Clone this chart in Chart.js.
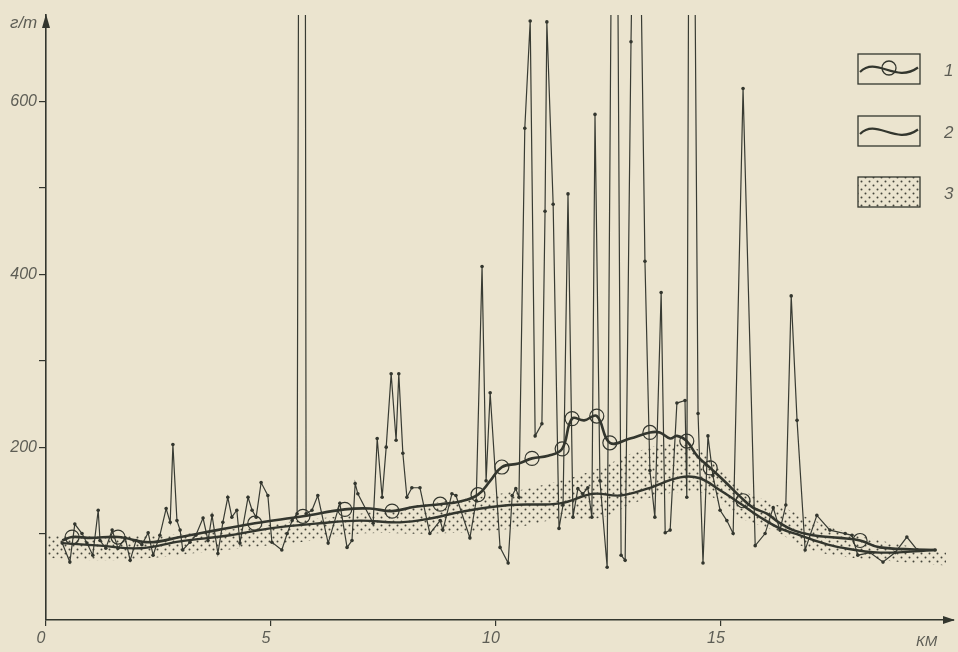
<!DOCTYPE html>
<html>
<head>
<meta charset="utf-8">
<script src="https://cdn.jsdelivr.net/npm/chart.js@4.4.1/dist/chart.umd.min.js"></script>
<style>
  html, body { margin: 0; padding: 0; background: #ebe4cf; }
  canvas { display: block; }
</style>
</head>
<body>
<canvas id="chart" width="958" height="652"></canvas>
<script>
// raw assay profile (thin line with dots), km / g/t ; 900 = off the scale
const rawKm = [0.36, 0.53, 0.64, 0.80, 0.91, 1.04, 1.16, 1.20, 1.33, 1.47, 1.60, 1.76, 1.87, 2.00, 2.13, 2.27, 2.38, 2.53, 2.67, 2.76,
  2.82, 2.91, 2.98, 3.04, 3.20, 3.33, 3.49, 3.60, 3.69, 3.82, 3.93, 4.04, 4.13, 4.24, 4.31, 4.49, 4.58, 4.67, 4.78, 4.93,
  5.02, 5.24, 5.36, 5.47, 5.58, 5.62, 5.76, 5.78, 5.91, 6.04, 6.27, 6.53, 6.69, 6.80, 6.87, 6.93, 7.27, 7.36, 7.47, 7.56,
  7.67, 7.78, 7.84, 7.93, 8.02, 8.13, 8.31, 8.53, 8.76, 8.82, 9.02, 9.11, 9.42, 9.56, 9.69, 9.78, 9.87, 10.09, 10.27, 10.36,
  10.44, 10.51, 10.64, 10.76, 10.87, 11.02, 11.09, 11.13, 11.27, 11.40, 11.49, 11.60, 11.71, 11.82, 11.93, 12.04, 12.13, 12.20, 12.31, 12.47,
  12.58, 12.69, 12.78, 12.87, 13.00, 13.07, 13.18, 13.31, 13.42, 13.53, 13.67, 13.76, 13.87, 14.02, 14.20, 14.24, 14.29, 14.40, 14.49, 14.60,
  14.71, 14.82, 14.98, 15.13, 15.27, 15.49, 15.76, 15.98, 16.16, 16.31, 16.44, 16.56, 16.69, 16.87, 17.13, 17.42, 17.76, 17.91, 18.04, 18.31,
  18.60, 18.87, 19.13, 19.36, 19.76];
const rawVal = [89, 67, 111, 100, 89, 75, 127, 92, 83, 104, 83, 95, 69, 92, 87, 101, 75, 98, 129, 113,
  203, 115, 104, 81, 90, 98, 118, 92, 121, 77, 113, 142, 119, 127, 89, 142, 127, 119, 159, 144,
  90, 81, 100, 115, 123, 900, 900, 123, 127, 144, 89, 135, 84, 92, 158, 146, 112, 210, 142, 200,
  285, 208, 285, 193, 142, 153, 153, 100, 115, 104, 146, 144, 95, 138, 409, 161, 263, 84, 66, 144,
  152, 142, 569, 693, 213, 227, 473, 692, 481, 106, 133, 493, 119, 152, 146, 153, 119, 585, 161, 61,
  900, 900, 75, 69, 669, 900, 900, 415, 173, 119, 379, 101, 104, 251, 254, 142, 900, 900, 239, 66,
  213, 167, 127, 115, 100, 615, 86, 100, 130, 104, 133, 375, 231, 81, 121, 104, 100, 98, 75, 78,
  67, 78, 96, 81, 81];

// curve 1 (smoothed, with circles)
const curve1Km = [0.36, 0.58, 1.0, 1.6, 2.3, 2.98, 3.8, 4.64, 5.71, 6.64, 7.2, 7.69, 8.2, 8.76, 9.2, 9.6, 9.87, 10.13, 10.5, 10.8,
  11.16, 11.47, 11.69, 11.96, 12.24, 12.53, 12.98, 13.42, 13.64, 13.87, 14.02, 14.24, 14.47, 14.76, 15.13, 15.42, 15.71, 16.02, 16.31, 16.6,
  17.04, 17.64, 18.09, 18.53, 19.76];
const curve1Val = [92, 96, 95, 96, 90, 96, 104, 112, 120, 128, 129, 126, 131, 134, 137, 145, 161, 177, 181, 187,
  190, 198, 233, 231, 236, 205, 210, 217, 217, 210, 213, 207, 190, 176, 158, 143, 130, 123, 112, 104,
  98, 95, 92, 84, 81];
const circleKm = [0.58, 1.6, 4.64, 5.71, 6.64, 7.69, 8.76, 9.6, 10.13, 10.8, 11.47, 11.69, 12.24, 12.53, 13.42, 14.24, 14.76, 15.49, 18.09];
const circleVal = [96, 96, 112, 120, 128, 126, 134, 145, 177, 187, 198, 233, 236, 205, 217, 207, 176, 138, 92];

// curve 2 (smoothed)
const curve2Km = [0.36, 1.2, 2.09, 2.98, 4.09, 4.98, 6.09, 6.98, 7.87, 8.6, 9.2, 10.31, 11.42, 12.16, 12.76, 13.36, 14.09, 14.53, 14.98, 15.42,
  15.87, 16.31, 16.76, 17.2, 17.64, 18.53, 19.76];
const curve2Val = [89, 86, 83, 91, 98, 106, 112, 115, 113, 118, 125, 133, 135, 146, 144, 152, 165, 164, 150, 135,
  119, 106, 98, 90, 84, 78, 81];

// band 3 (dotted area)
const bandKm = [0.02, 1.2, 2.4, 3.42, 4.5, 5.64, 6.98, 8.53, 10.09, 11.42, 12.3, 13.2, 14.09, 14.7, 15.4, 16.16, 16.9, 17.64, 18.53, 20.0];
const bandLow = [72, 69, 72, 78, 84, 90, 100, 100, 104, 117, 118, 138, 148, 145, 119, 104, 83, 74, 69, 63];
const bandHigh = [98, 97, 98, 101, 107, 115, 123, 135, 146, 161, 176, 196, 204, 190, 153, 135, 119, 104, 92, 78];

const yTicks = [100, 200, 300, 400, 500, 600];
const yLabels = [200, 400, 600];
const xTicks = [0, 5, 10, 15];
const legendLabels = ['1', '2', '3'];

const ink = '#33362e';
const paper = '#ebe4cf';
const labelColor = '#5d5d55';

const pts = (xs, ys) => xs.map((x, i) => ({ x: x, y: ys[i] }));

const ctx = document.getElementById('chart').getContext('2d');

function makeDots() {
    const c = document.createElement('canvas');
    c.width = 8; c.height = 8;
    const g = c.getContext('2d');
    g.fillStyle = '#45453c';
    g.beginPath(); g.arc(1.5, 1.5, 1.0, 0, Math.PI * 2); g.fill();
    g.beginPath(); g.arc(5.5, 5.5, 1.0, 0, Math.PI * 2); g.fill();
    return ctx.createPattern(c, 'repeat');
}
const dots = makeDots();

function wave(g, x, y, w, h) {
    g.beginPath();
    g.moveTo(x + 2, y + h * 0.6);
    g.bezierCurveTo(x + w * 0.3, y + h * 0.05, x + w * 0.6, y + h * 1.0, x + w - 2, y + h * 0.45);
    g.stroke();
}

const decor = {
    id: 'decor',
    beforeDraw(chart) {
        const g = chart.ctx;
        g.save();
        g.fillStyle = paper;
        g.fillRect(0, 0, chart.width, chart.height);
        g.restore();
    },
    afterDraw(chart) {
        const g = chart.ctx;
        const a = chart.chartArea;
        g.save();
        g.strokeStyle = ink;
        g.fillStyle = ink;
        g.lineWidth = 1.6;
        // axis arrows
        g.beginPath();
        g.moveTo(a.left, a.top - 1);
        g.lineTo(a.left - 4, a.top + 13);
        g.lineTo(a.left + 4, a.top + 13);
        g.closePath();
        g.fill();
        g.beginPath();
        g.moveTo(a.right, a.bottom);
        g.lineTo(a.right + 8, a.bottom);
        g.stroke();
        g.beginPath();
        g.moveTo(a.right + 9, a.bottom);
        g.lineTo(a.right - 3, a.bottom - 4);
        g.lineTo(a.right - 3, a.bottom + 4);
        g.closePath();
        g.fill();

        // unit labels
        g.fillStyle = labelColor;
        g.font = 'italic 17px "Liberation Sans"';
        g.textBaseline = 'middle';
        g.textAlign = 'left';
        g.fillText('г/т', 10, 23);
        g.font = 'italic 15px "Liberation Sans"';
        g.fillText('КМ', 916, 642);

        // legend
        const boxes = [[858, 54], [858, 116], [858, 177]];
        const bw = 62, bh = 30;
        g.lineWidth = 1.3;
        g.strokeStyle = ink;
        boxes.forEach((b, i) => {
            if (i === 2) {
                g.fillStyle = dots;
                g.fillRect(b[0], b[1], bw, bh);
            }
            g.strokeRect(b[0], b[1], bw, bh);
            if (i < 2) {
                g.lineWidth = 2.2;
                wave(g, b[0], b[1], bw, bh);
                g.lineWidth = 1.3;
            }
            if (i === 0) {
                g.beginPath();
                g.arc(b[0] + 31, b[1] + 14, 7, 0, Math.PI * 2);
                g.stroke();
            }
            g.fillStyle = labelColor;
            g.font = 'italic 17px "Liberation Sans"';
            g.fillText(legendLabels[i], b[0] + 86, b[1] + bh / 2 + 2);
        });
        g.restore();
    }
};

new Chart(ctx, {
    type: 'line',
    data: {
        datasets: [
            {
                label: 'band low',
                data: pts(bandKm, bandLow),
                borderWidth: 0,
                pointRadius: 0,
                tension: 0.4,
                fill: false,
                order: 10
            },
            {
                label: '3',
                data: pts(bandKm, bandHigh),
                borderWidth: 0,
                pointRadius: 0,
                tension: 0.4,
                fill: '-1',
                backgroundColor: dots,
                order: 9
            },
            {
                label: '2',
                data: pts(curve2Km, curve2Val),
                borderColor: ink,
                borderWidth: 2.4,
                pointRadius: 0,
                tension: 0.4,
                fill: false,
                order: 3
            },
            {
                label: '1',
                data: pts(curve1Km, curve1Val),
                borderColor: ink,
                borderWidth: 2.6,
                pointRadius: 0,
                tension: 0.4,
                fill: false,
                order: 2
            },
            {
                label: 'circles',
                data: pts(circleKm, circleVal),
                showLine: false,
                pointRadius: 7,
                pointBorderWidth: 1.2,
                pointBorderColor: ink,
                pointBackgroundColor: 'rgba(0,0,0,0)',
                order: 1
            },
            {
                label: 'raw',
                data: pts(rawKm, rawVal),
                borderColor: '#383b33',
                borderWidth: 1.2,
                pointRadius: 1.8,
                pointBackgroundColor: ink,
                pointBorderWidth: 0,
                tension: 0,
                fill: false,
                order: 4
            }
        ]
    },
    options: {
        responsive: false,
        animation: false,
        layout: {
            padding: { top: 15, right: 12, left: 0, bottom: 0 }
        },
        scales: {
            x: {
                type: 'linear',
                min: 0,
                max: 20,
                afterFit: s => { s.height = 32; },
                afterBuildTicks: s => { s.ticks = xTicks.map(v => ({ value: v })); },
                border: { color: ink, width: 1.6 },
                grid: { drawOnChartArea: false, drawTicks: true, tickLength: 6, color: ink, lineWidth: 1.2 },
                ticks: {
                    color: labelColor,
                    padding: 3,
                    labelOffset: -5,
                    maxRotation: 0,
                    font: { family: 'Liberation Sans', style: 'italic', size: 16 }
                }
            },
            y: {
                min: 0,
                max: 700,
                afterFit: s => { s.width = 46; },
                afterBuildTicks: s => { s.ticks = yTicks.map(v => ({ value: v })); },
                border: { color: ink, width: 1.6 },
                grid: { drawOnChartArea: false, drawTicks: true, tickLength: 7, color: ink, lineWidth: 1.2 },
                ticks: {
                    color: labelColor,
                    padding: 2,
                    font: { family: 'Liberation Sans', style: 'italic', size: 16 },
                    callback: v => yLabels.includes(v) ? String(v) : ''
                }
            }
        },
        plugins: {
            legend: { display: false },
            tooltip: { enabled: false }
        }
    },
    plugins: [decor]
});
</script>
</body>
</html>
